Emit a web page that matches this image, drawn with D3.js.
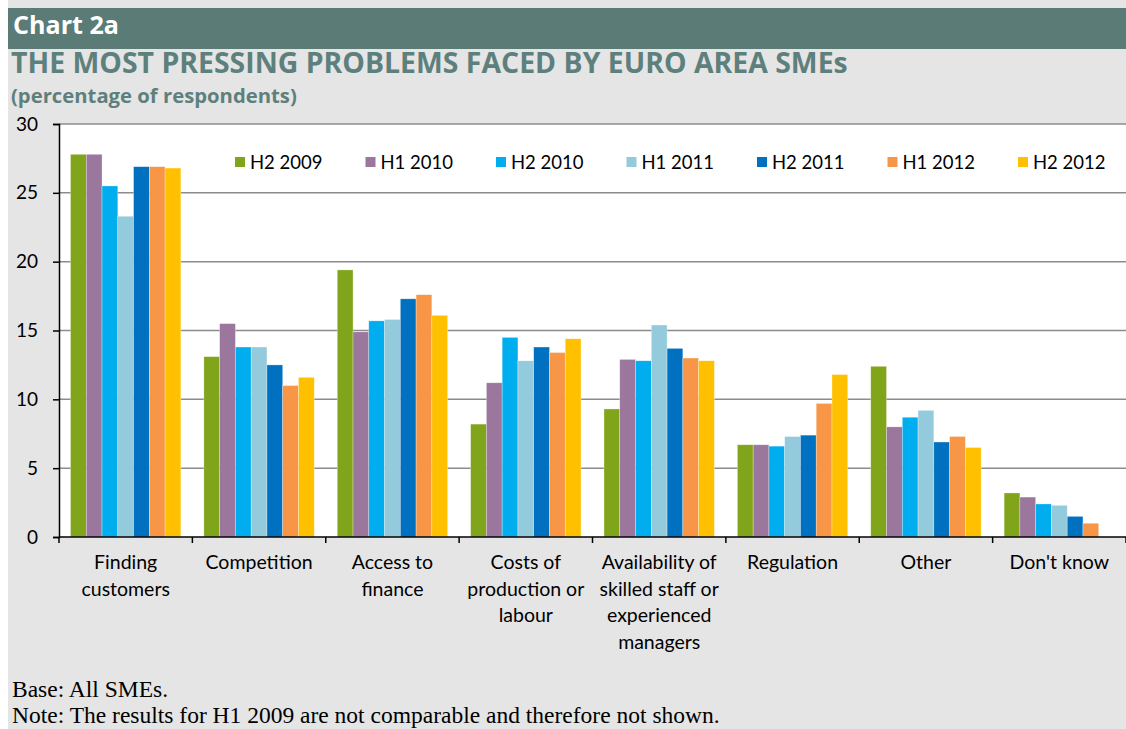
<!DOCTYPE html>
<html><head><meta charset="utf-8">
<script src="https://cdn.jsdelivr.net/npm/d3@7"></script>
<style>
html,body{margin:0;padding:0;background:#fff;}
svg{display:block;}
</style></head>
<body>
<svg id="chart" width="1126" height="729"></svg>
<script>
const categories = [["Finding","customers"],["Competition"],["Access to","finance"],["Costs of","production or","labour"],["Availability of","skilled staff or","experienced","managers"],["Regulation"],["Other"],["Don't know"]];
const seriesNames = ["H2 2009","H1 2010","H2 2010","H1 2011","H2 2011","H1 2012","H2 2012"];
const seriesColors = ["#80a41a","#9b769d","#00adee","#93cadc","#0070c0","#f79646","#ffc000"];
const h2_2009 = [27.8,13.1,19.4,8.2,9.3,6.7,12.4,3.2];
const h1_2010 = [27.8,15.5,14.9,11.2,12.9,6.7,8.0,2.9];
const h2_2010 = [25.5,13.8,15.7,14.5,12.8,6.6,8.7,2.4];
const h1_2011 = [23.3,13.8,15.8,12.8,15.4,7.3,9.2,2.3];
const h2_2011 = [26.9,12.5,17.3,13.8,13.7,7.4,6.9,1.5];
const h1_2012 = [26.9,11.0,17.6,13.4,13.0,9.7,7.3,1.0];
const h2_2012 = [26.8,11.6,16.1,14.4,12.8,11.8,6.5,null];
const yTicks = [0,5,10,15,20,25,30];
const seriesValues = [h2_2009,h1_2010,h2_2010,h1_2011,h2_2011,h1_2012,h2_2012];

const svg = d3.select("#chart");
function fitWidth(sel, target){
  const w = sel.node().getComputedTextLength();
  const fs = parseFloat(sel.attr("font-size"));
  sel.attr("font-size", fs*target/w);
}
// background
svg.append("rect").attr("x",8).attr("y",0).attr("width",1118).attr("height",729).attr("fill","#e5e5e5");
svg.append("rect").attr("x",8).attr("y",8).attr("width",1118).attr("height",41).attr("fill","#5b7b77");
const hdrFont = "'Open Sans', Lato, sans-serif";
const t0 = svg.append("text").attr("x",13).attr("y",34).text("Chart 2a")
  .attr("fill","#fff").attr("font-family",hdrFont).attr("font-weight","bold").attr("font-size",22);
fitWidth(t0, 106);
const t1 = svg.append("text").attr("x",11).attr("y",73).text("THE MOST PRESSING PROBLEMS FACED BY EURO AREA SMEs")
  .attr("fill","#5e807c").attr("font-family",hdrFont).attr("font-weight","bold").attr("font-size",26);
fitWidth(t1, 837);
const t2 = svg.append("text").attr("x",11).attr("y",103).text("(percentage of respondents)")
  .attr("fill","#5e807c").attr("font-family",hdrFont).attr("font-weight","bold").attr("font-size",19);
fitWidth(t2, 286);

const pLeft = 59, pRight = 1126, pTop = 124, pBottom = 537;
const x0 = d3.scaleBand().domain(d3.range(categories.length)).range([pLeft, pRight]).paddingInner(0).paddingOuter(0);
const x1 = d3.scaleBand().domain(d3.range(seriesNames.length)).range([0, x0.bandwidth()]).paddingOuter(0.73).paddingInner(0);
const y = d3.scaleLinear().domain([0,30]).range([pBottom, pTop]);

svg.append("rect").attr("x",pLeft).attr("y",pTop).attr("width",pRight-pLeft).attr("height",pBottom-pTop).attr("fill","#fff");

// gridlines
svg.append("g").selectAll("line").data(yTicks.filter(d=>d>0)).join("line")
  .attr("x1",pLeft).attr("x2",pRight).attr("y1",d=>y(d)).attr("y2",d=>y(d))
  .attr("stroke","#8c8c8c").attr("stroke-width",1.5);

// bars
const groups = svg.append("g").selectAll("g").data(categories.map((c,i)=>i)).join("g")
  .attr("transform", i=>`translate(${x0(i)},0)`);
groups.selectAll("rect").data(i => seriesValues.map((s,j)=>({j, v:s[i]})).filter(d=>d.v!=null)).join("rect")
  .attr("x", d=>x1(d.j)).attr("width", x1.bandwidth())
  .attr("y", d=>y(d.v)).attr("height", d=>y(0)-y(d.v))
  .attr("fill", d=>seriesColors[d.j])
  .attr("stroke","rgba(255,255,255,0.5)").attr("stroke-width",0.6);

const lblFont = "Lato, 'Open Sans', sans-serif";
// y axis
const yAxis = d3.axisLeft(y).tickValues(yTicks).tickSize(6).tickPadding(15);
const ya = svg.append("g").attr("transform",`translate(${pLeft},0)`).call(yAxis);
ya.select(".domain").attr("stroke","#000").attr("stroke-width",1.5);
ya.selectAll(".tick line").attr("stroke","#000").attr("stroke-width",1.5);
ya.selectAll(".tick text").attr("font-family",lblFont).attr("font-size",19).attr("fill","#000");

// x axis
const xa = svg.append("g").attr("transform",`translate(0,${pBottom})`);
xa.append("line").attr("x1",pLeft).attr("x2",pRight).attr("y1",0).attr("y2",0).attr("stroke","#000").attr("stroke-width",1.5);
xa.selectAll("line.tk").data(d3.range(categories.length+1)).join("line").attr("class","tk")
  .attr("x1",i=>pLeft + i*x0.bandwidth()).attr("x2",i=>pLeft + i*x0.bandwidth())
  .attr("y1",0).attr("y2",6).attr("stroke","#000").attr("stroke-width",1.5);
const labels = xa.selectAll("text").data(categories).join("text")
  .attr("text-anchor","middle")
  .attr("font-family",lblFont).attr("font-size",19.5).attr("fill","#000");
labels.each(function(lines,i){
  const t = d3.select(this);
  lines.forEach((ln,k)=>{
    t.append("tspan").attr("x", x0(i)+x0.bandwidth()/2).attr("y", 32 + k*26.5).text(ln);
  });
});

// legend
const legend = svg.append("g").selectAll("g").data(seriesNames).join("g")
  .attr("transform",(d,i)=>`translate(${235 + i*130.5},157)`);
legend.append("rect").attr("width",10).attr("height",10).attr("fill",(d,i)=>seriesColors[i]);
legend.append("text").attr("x",15).attr("y",11.5).text(d=>d)
  .attr("font-family",lblFont).attr("font-size",18.5).attr("fill","#000");

// footnotes
svg.append("text").attr("x",12).attr("y",697).text("Base: All SMEs.")
  .attr("font-family","'Liberation Serif', serif").attr("font-size",23.5).attr("fill","#000");
svg.append("text").attr("x",12).attr("y",723).text("Note: The results for H1 2009 are not comparable and therefore not shown.")
  .attr("font-family","'Liberation Serif', serif").attr("font-size",23.5).attr("fill","#000");
</script>
</body></html>
